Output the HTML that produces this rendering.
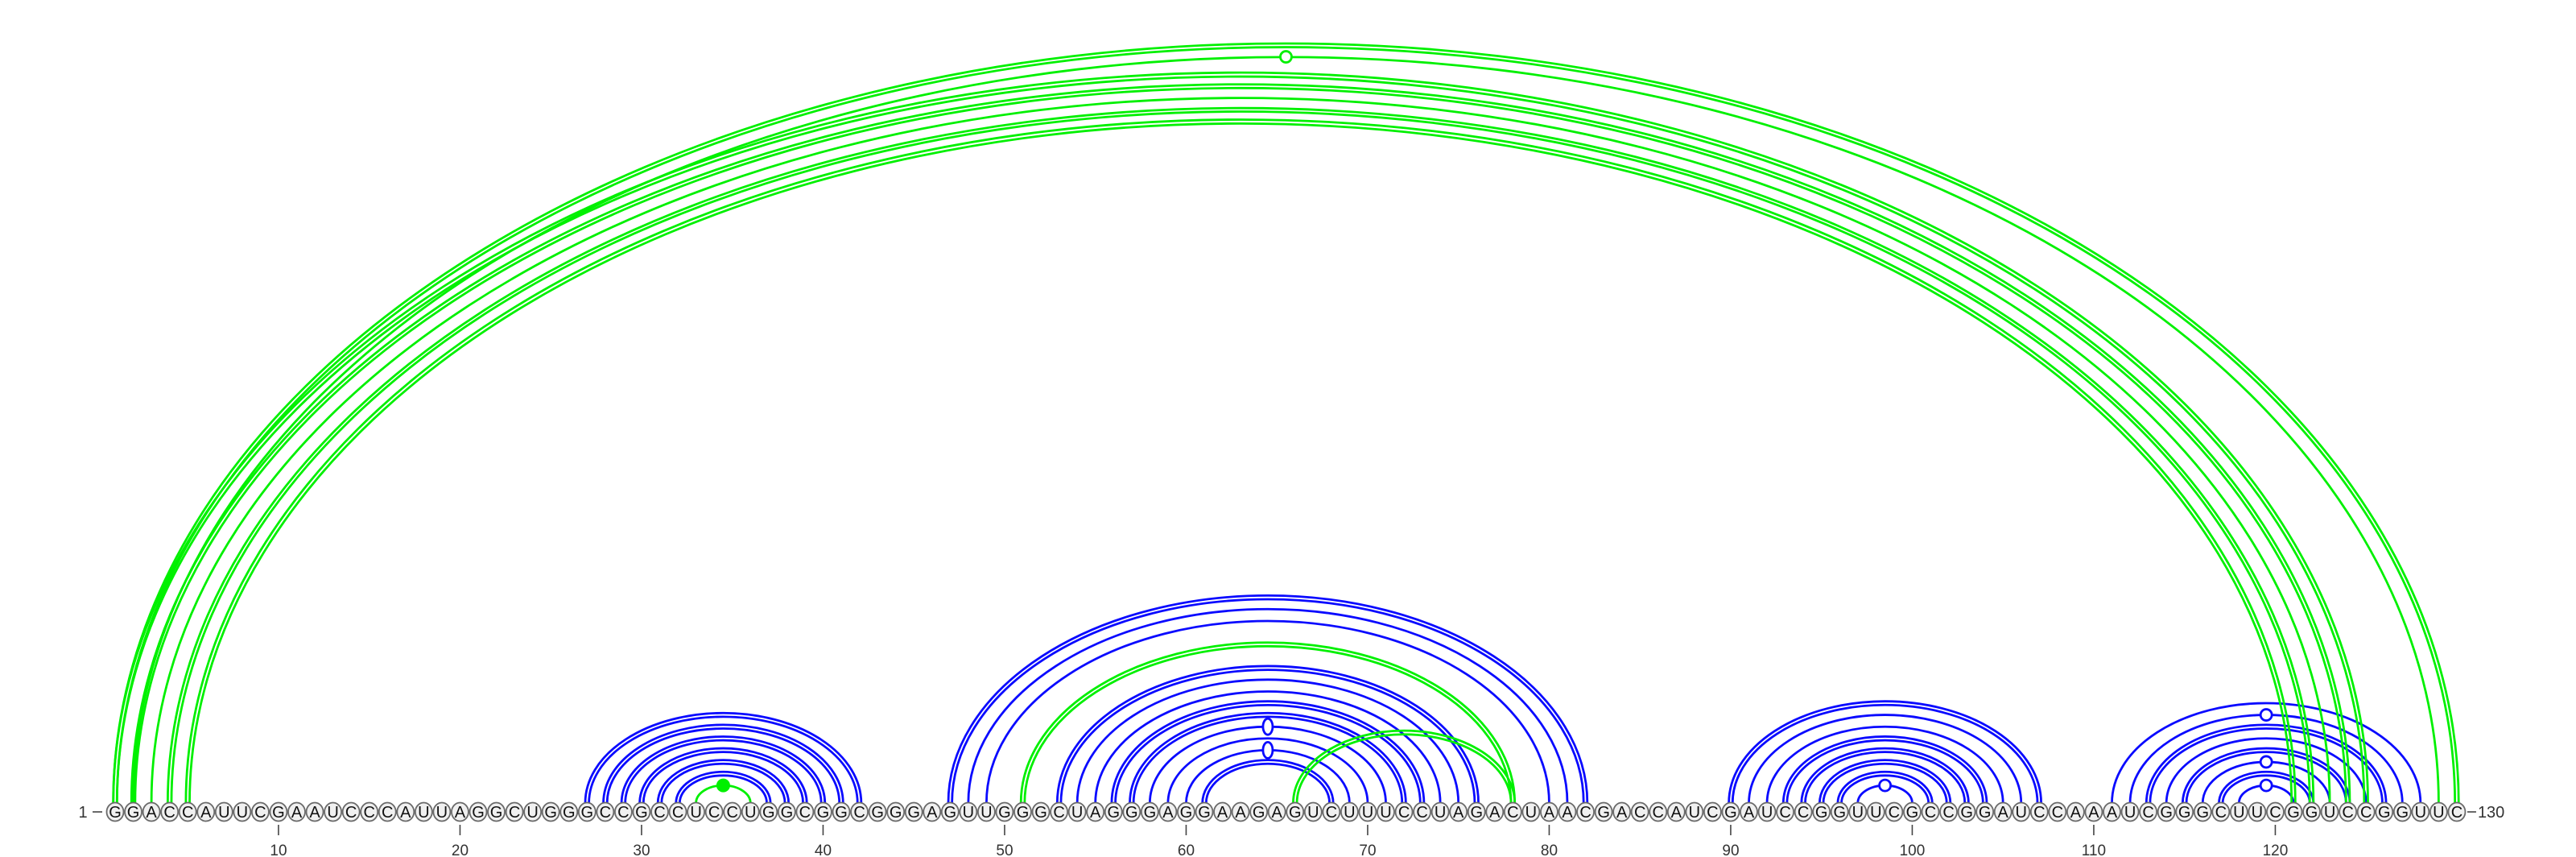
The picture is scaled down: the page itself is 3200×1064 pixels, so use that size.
<!DOCTYPE html>
<html>
<head>
<meta charset="utf-8">
<style>
html,body{margin:0;padding:0;background:#fff;}
svg{display:block;}
text{font-family:"Liberation Sans",sans-serif;}
</style>
</head>
<body>
<svg id="chart" width="3200" height="1064" viewBox="0 0 3200 1064" xmlns="http://www.w3.org/2000/svg">
  <g id="arcs"></g>
  <g id="markers"></g>
  <g id="bases"></g>
  <g id="axis"></g>
</svg>
<script>
const sequence = "GGACCAUUCGAAUCCCAUUAGGCUGGGCCGCCUCCUGGCGGCGGGAGUUGGGCUAGGGAGGAAGAGUCUUUCCUAGACUAACGACCAUCGAUCCGGUUCGCCGGAUCCAAAUCGGGCUUCGGUCCGGUUC";
// blue pairs [i, j, double(1/0), marker(0 none,1 circle,2 oval)]
const bluePairs = [
  [27,42,1,0],[28,41,1,0],[29,40,1,0],[30,39,1,0],[31,38,1,0],[32,37,1,0],
  [47,82,1,0],[48,81,0,0],[49,80,0,0],[53,76,1,0],[54,75,0,0],[55,74,0,0],
  [56,73,1,0],[57,72,1,0],[58,71,0,2],[59,70,0,0],[60,69,0,2],[61,68,1,0],
  [90,107,1,0],[91,106,0,0],[92,105,0,0],[93,104,1,0],[94,103,1,0],[95,102,1,0],[96,101,1,0],[97,100,0,1],
  [111,128,0,0],[112,127,0,1],[113,126,1,0],[114,125,0,0],[115,124,1,0],[116,123,0,1],[117,122,1,0],[118,121,0,1]
];
// green pairs [i, j, double, marker(0 none,1 open circle,3 filled dot)]
const greenPairs = [
  [1,130,1,0],[2,129,0,1],[1,125,1,0],[2,124,1,0],[3,123,0,0],[4,122,1,0],[5,121,1,0],
  [51,78,1,0],[66,78,1,0],[33,36,0,3]
];
const tickPositions = [10,20,30,40,50,60,70,80,90,100,110,120];

const NS = "http://www.w3.org/2000/svg";
const X0 = 143, STEP = 22.55, BASE_Y = 1008, ARC_Y = 997, RATIO = 0.647;
function xPos(i){ return X0 + (i-1)*STEP; }
function mk(tag, attrs, parent){
  const el = document.createElementNS(NS, tag);
  for (const k in attrs) el.setAttribute(k, attrs[k]);
  parent.appendChild(el);
  return el;
}
const arcsG = document.getElementById('arcs');
const markG = document.getElementById('markers');
const basesG = document.getElementById('bases');
const axisG = document.getElementById('axis');

function drawArc(p, color, kind){
  const i = p[0], j = p[1], dbl = p[2], mark = p[3];
  const x1 = xPos(i), x2 = xPos(j);
  const cx = (x1+x2)/2, rx = (x2-x1)/2, ry = rx*RATIO;
  const offs = dbl ? [-2.3, 2.3] : [0];
  offs.forEach(o => {
    const r1 = rx + o, r2 = ry + o;
    const path = mk('path', {d:`M ${cx-r1} ${ARC_Y} A ${r1} ${r2} 0 0 1 ${cx+r1} ${ARC_Y}`, fill:'none', stroke:color, 'stroke-width':2.8}, arcsG);
    
    
  });
  const topY = ARC_Y - ry;
  if (mark === 1) {
    const c = mk('circle', {cx:cx, cy:topY, r:7, fill:'#fff', stroke:color, 'stroke-width':2.8}, markG);
    
    
  } else if (mark === 2) {
    const e = mk('ellipse', {cx:cx, cy:topY, rx:6, ry:10, fill:'#fff', stroke:color, 'stroke-width':2.8}, markG);
    
    
  } else if (mark === 3) {
    const d = mk('circle', {cx:cx, cy:topY, r:8, fill:color, stroke:color, 'stroke-width':1}, markG);
    
    
  }
}
bluePairs.forEach(p => drawArc(p, '#0a0aff', 'blue'));
greenPairs.forEach(p => drawArc(p, '#00f000', 'green'));

for (let k = 0; k < sequence.length; k++) {
  const x = xPos(k+1);
  const c = mk('ellipse', {cx:x, cy:BASE_Y, rx:10.5, ry:11.5, fill:'#f0f0f0', stroke:'#6a6a6a', 'stroke-width':1.8}, basesG);
  
  
  const t = mk('text', {x:x, y:BASE_Y+7, 'text-anchor':'middle', 'font-size':20, fill:'#111'}, basesG);
  
  
  t.textContent = sequence[k];
}

const startLbl = mk('text', {x:103, y:BASE_Y+7, 'text-anchor':'middle', 'font-size':20, fill:'#333'}, axisG);


startLbl.textContent = '1';
const sd = mk('line', {x1:115, y1:BASE_Y, x2:127, y2:BASE_Y, stroke:'#444', 'stroke-width':1.6}, axisG);


const ed = mk('line', {x1:xPos(130)+13, y1:BASE_Y, x2:xPos(130)+24, y2:BASE_Y, stroke:'#444', 'stroke-width':1.6}, axisG);


const endLbl = mk('text', {x:xPos(130)+26, y:BASE_Y+7, 'text-anchor':'start', 'font-size':20, fill:'#333'}, axisG);


endLbl.textContent = '130';

tickPositions.forEach(p => {
  const x = xPos(p);
  const l = mk('line', {x1:x, y1:1024, x2:x, y2:1037, stroke:'#444', 'stroke-width':1.6}, axisG);
  
  
  const t = mk('text', {x:x, y:1062, 'text-anchor':'middle', 'font-size':19, fill:'#333'}, axisG);
  
  
  t.textContent = String(p);
});
</script>
</body>
</html>
